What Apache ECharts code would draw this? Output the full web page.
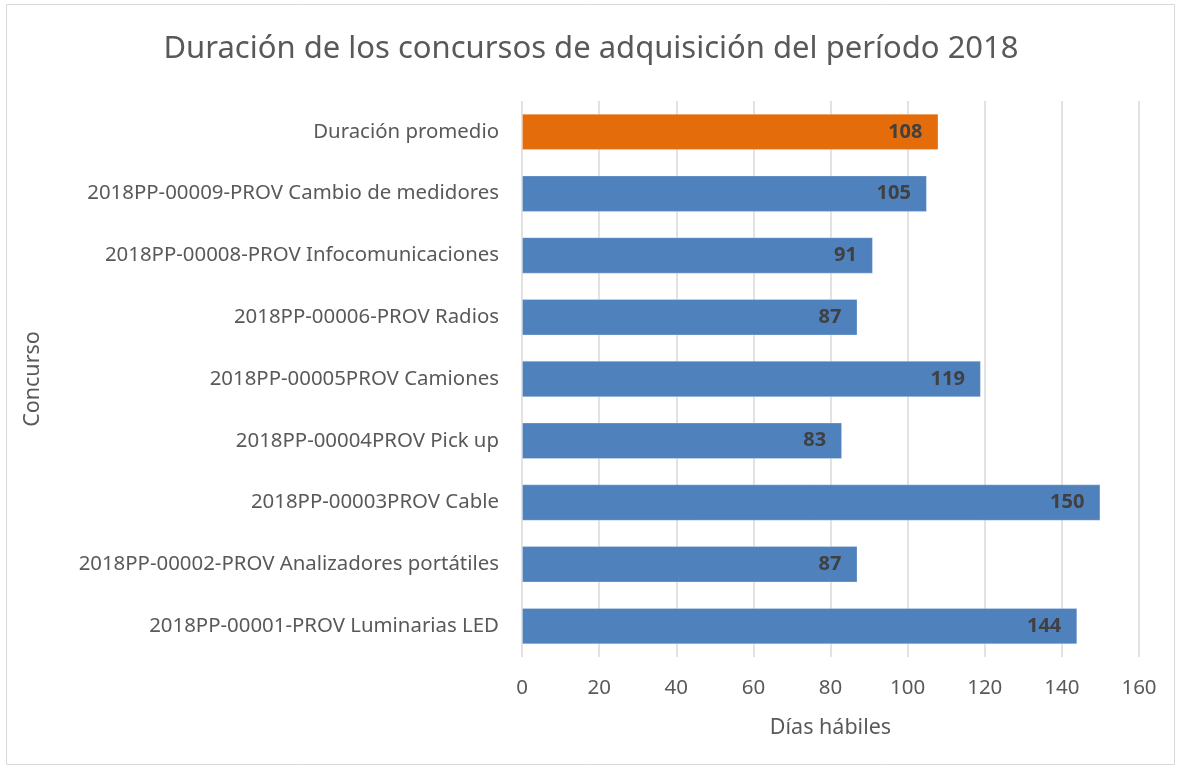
<!DOCTYPE html>
<html>
<head>
<meta charset="utf-8">
<script src="https://cdn.jsdelivr.net/npm/echarts@6/dist/echarts.min.js"></script>
<style>
  html, body { margin: 0; padding: 0; background: #fff; }
  #chart { width: 1182px; height: 769px; }
</style>
</head>
<body>
<div id="chart"></div>
<script>
// categories listed top to bottom, as in the picture
const concursos = [
    'Duración promedio',
    '2018PP-00009-PROV Cambio de medidores',
    '2018PP-00008-PROV Infocomunicaciones',
    '2018PP-00006-PROV Radios',
    '2018PP-00005PROV Camiones',
    '2018PP-00004PROV Pick up',
    '2018PP-00003PROV Cable',
    '2018PP-00002-PROV Analizadores portátiles',
    '2018PP-00001-PROV Luminarias LED'
];
const diasHabiles = [108, 105, 91, 87, 119, 83, 150, 87, 144];
const xTicks = [0, 20, 40, 60, 80, 100, 120, 140, 160];

const FONT = '"Noto Sans", "Open Sans", sans-serif';
const BLUE = '#4f81bd';
const ORANGE = '#e46c0a';
const TEXT = '#595959';

const chart = echarts.init(document.getElementById('chart'));

chart.setOption({
    backgroundColor: '#fff',
    animation: false,
    title: {
        text: 'Duración de los concursos de adquisición del período 2018',
        left: 'center',
        top: 29,
        textStyle: { fontFamily: FONT, fontSize: 31, fontWeight: 'normal', color: TEXT }
    },
    graphic: [{
        type: 'rect',
        shape: { x: 6.5, y: 4.5, width: 1168, height: 760 },
        style: { fill: 'none', stroke: '#d9d9d9', lineWidth: 1 },
        silent: true
    }],
    grid: { left: 522, right: 43, top: 101, bottom: 112 },
    xAxis: {
        type: 'value',
        min: xTicks[0],
        max: xTicks[xTicks.length - 1],
        interval: xTicks[1] - xTicks[0],
        name: 'Días hábiles',
        nameLocation: 'middle',
        nameGap: 60,
        nameTextStyle: { fontFamily: FONT, fontSize: 21.5, color: TEXT },
        axisLine: { show: false },
        axisTick: { show: false },
        axisLabel: { fontFamily: FONT, fontSize: 20.5, color: TEXT, margin: 21 },
        splitLine: { lineStyle: { color: '#d9d9d9', width: 1.5 } }
    },
    yAxis: {
        type: 'category',
        inverse: true,
        data: concursos,
        name: 'Concurso',
        nameLocation: 'middle',
        nameGap: 478,
        nameRotate: 90,
        nameTextStyle: { fontFamily: FONT, fontSize: 21.5, color: TEXT },
        axisLine: { show: false },
        axisTick: { show: false },
        axisLabel: { fontFamily: FONT, fontSize: 20.4, color: TEXT, margin: 23 }
    },
    series: [{
        type: 'bar',
        barCategoryGap: '41%',
        data: diasHabiles.map((v, i) => ({
            value: v,
            itemStyle: { color: i === 0 ? ORANGE : BLUE }
        })),
        itemStyle: { borderColor: 'rgba(255,255,255,0.25)', borderWidth: 1 },
        label: {
            show: true,
            position: 'insideRight',
            distance: 16,
            fontFamily: FONT,
            fontSize: 20,
            fontWeight: 'bold',
            color: '#404040'
        }
    }]
});
</script>
</body>
</html>
